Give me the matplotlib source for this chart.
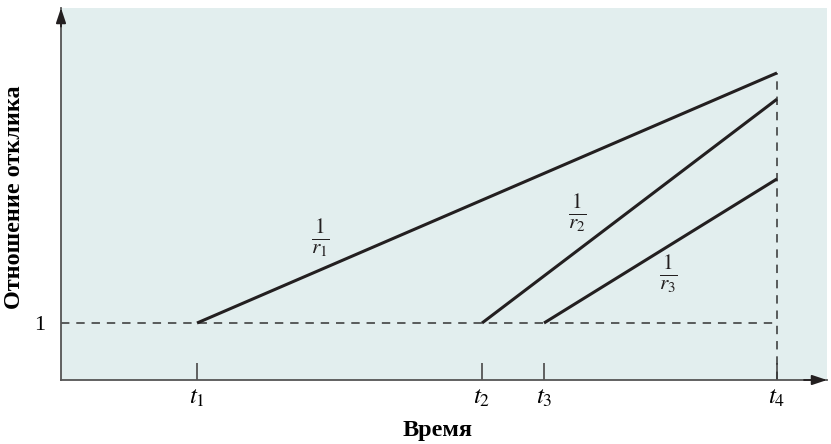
import matplotlib
matplotlib.use("Agg")
import matplotlib.pyplot as plt

plt.rcParams['mathtext.fontset'] = 'stix'
plt.rcParams['font.family'] = ['Liberation Serif', 'DejaVu Serif']

# Data (arbitrary units)
t_labels = [r'$t_1$', r'$t_2$', r'$t_3$', r'$t_4$']
t_values = [1.36, 4.21, 4.83, 7.16]
start_level = 1.0
end_values = [5.39, 4.93, 3.53]          # response ratio at t4 for 1/r1, 1/r2, 1/r3
series_labels = [r'$\frac{1}{r_1}$', r'$\frac{1}{r_2}$', r'$\frac{1}{r_3}$']
label_pos = [(2.59, 2.48), (5.16, 2.92), (6.07, 1.86)]
x_max = 7.66
y_max = 6.53

W, H = 831, 444
fig = plt.figure(figsize=(W / 100, H / 100), dpi=100)
ax = fig.add_axes([61 / W, 64 / H, 766 / W, 372 / H])
ax.set_facecolor('#e2eeee')
ax.set_xlim(0, x_max)
ax.set_ylim(0, y_max)

line_col = '#231f20'
axis_col = '#555555'

# Dashed reference lines
t4 = t_values[3]
ax.plot([0, t4], [start_level, start_level], ls=(0, (5.5, 4.5)), color='#333333', lw=1.1)
ax.plot([t4, t4], [0, end_values[0]], ls=(0, (5.5, 4.5)), color='#333333', lw=1.1)

# Response lines
for t0, yend in zip(t_values[:3], end_values):
    ax.plot([t0, t4], [start_level, yend], color=line_col, lw=2.2, solid_capstyle='butt')

for lab, (lx, ly) in zip(series_labels, label_pos):
    ax.text(lx, ly, lab, fontsize=22, ha='center', va='center', color=line_col)

# Spines
for s in ['top', 'right']:
    ax.spines[s].set_visible(False)
for s in ['left', 'bottom']:
    ax.spines[s].set_color(axis_col)
    ax.spines[s].set_linewidth(1.3)

# Arrows
ax.annotate('', xy=(1.0, 0), xycoords='axes fraction', xytext=(0.97, 0),
            arrowprops=dict(arrowstyle='-|>,head_length=0.9,head_width=0.3',
                            color=line_col, lw=1.3, shrinkA=0, shrinkB=0), annotation_clip=False)
ax.annotate('', xy=(0, 1.0), xycoords='axes fraction', xytext=(0, 0.95),
            arrowprops=dict(arrowstyle='-|>,head_length=0.9,head_width=0.3',
                            color=line_col, lw=1.3, shrinkA=0, shrinkB=0), annotation_clip=False)

ax.set_xticks(t_values)
ax.set_xticklabels(t_labels, fontsize=18)
ax.tick_params(axis='x', direction='in', length=12, width=1.3, color=axis_col, pad=5)
ax.set_yticks([start_level])
ax.set_yticklabels(['1'], fontsize=16)
ax.tick_params(axis='y', length=0, pad=11)

fig.text(438 / W, 1 - 430 / H, 'Время', fontsize=17.5, fontweight='bold', ha='center', va='center')
fig.text(15 / W, 1 - 197 / H, 'Отношение отклика', fontsize=17.5, fontweight='bold',
         ha='center', va='center', rotation=90)

fig.savefig('out.png', dpi=100)
